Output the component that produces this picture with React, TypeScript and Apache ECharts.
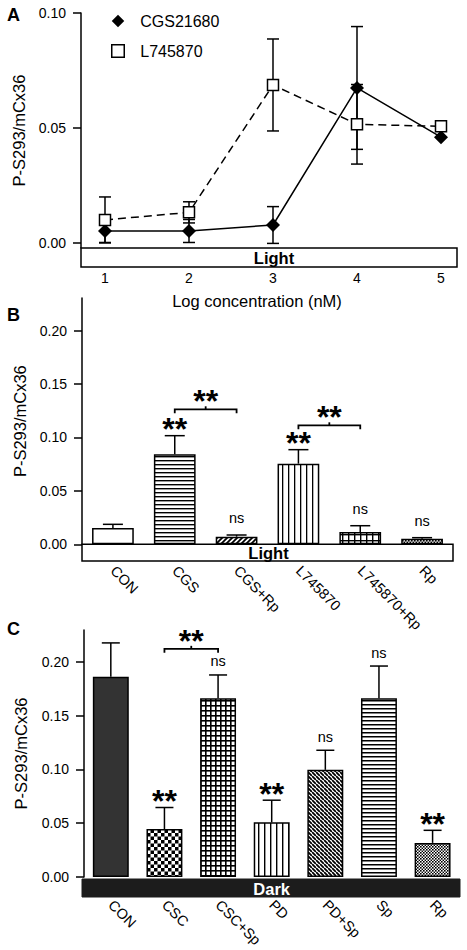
import React, { useEffect, useRef } from 'react';
import * as echarts from 'echarts';

const FONT = '"Liberation Sans", Arial, Helvetica, sans-serif';

// ---------- Panel A data ----------
const concentrations = [1, 2, 3, 4, 5];
const cgsMean = [0.0052, 0.0052, 0.0078, 0.0674, 0.046];
const cgsErr = [0.005, 0.005, 0.008, 0.0267, 0];
const l74Mean = [0.01, 0.0133, 0.0687, 0.0516, 0.0507];
const l74Err = [0.01, 0.0046, 0.02, 0.0173, 0];
const yTicksA = [0, 0.05, 0.1];
const xTicksA = [1, 2, 3, 4, 5];

// ---------- Panel B data ----------
const bCategories = ['CON', 'CGS', 'CGS+Rp', 'L745870', 'L745870+Rp', 'Rp'];
const bMean = [0.0153, 0.0843, 0.0071, 0.0755, 0.0115, 0.0053];
const bErr = [0.0034, 0.0174, 0.0016, 0.0131, 0.0059, 0.0009];
const bStars = [1, 3];
const bNs = [2, 4, 5];
const bBrackets = [
  [1, 2, 0.1264],
  [3, 4, 0.1114],
];

// ---------- Panel C data ----------
const cCategories = ['CON', 'CSC', 'CSC+Sp', 'PD', 'PD+Sp', 'Sp', 'Rp'];
const cMean = [0.186, 0.0445, 0.166, 0.0507, 0.0995, 0.166, 0.0316];
const cErr = [0.0315, 0.02, 0.0217, 0.0206, 0.0182, 0.03, 0.0117];
const cStars = [1, 3, 6];
const cNs = [2, 4, 5];
const cBrackets = [[1, 2, 0.212]];

const yTicksBC = [0, 0.05, 0.1, 0.15, 0.2];

function pattern(w: number, h: number, draw: (ctx: CanvasRenderingContext2D) => void) {
  const c = document.createElement('canvas');
  c.width = w;
  c.height = h;
  const ctx = c.getContext('2d') as CanvasRenderingContext2D;
  ctx.fillStyle = '#fff';
  ctx.fillRect(0, 0, w, h);
  ctx.fillStyle = '#000';
  ctx.strokeStyle = '#000';
  draw(ctx);
  return { image: c, repeat: 'repeat' } as any;
}
const hLines = (sp: number, t: number) => pattern(8, sp, (ctx) => ctx.fillRect(0, 0, 8, t));
const vLines = (sp: number, t: number) => pattern(sp, 8, (ctx) => ctx.fillRect(0, 0, t, 8));
const gridPat = (sp: number, t: number) =>
  pattern(sp, sp, (ctx) => {
    ctx.fillRect(0, 0, sp, t);
    ctx.fillRect(0, 0, t, sp);
  });
const checker = (s: number) =>
  pattern(2 * s, 2 * s, (ctx) => {
    ctx.fillRect(0, 0, s, s);
    ctx.fillRect(s, s, s, s);
  });
const diag = (s: number, t: number, forward: boolean) =>
  pattern(s, s, (ctx) => {
    ctx.lineWidth = t;
    ctx.beginPath();
    if (forward) {
      ctx.moveTo(-1, s + 1);
      ctx.lineTo(s + 1, -1);
      ctx.moveTo(-1, 1);
      ctx.lineTo(1, -1);
      ctx.moveTo(s - 1, s + 1);
      ctx.lineTo(s + 1, s - 1);
    } else {
      ctx.moveTo(-1, -1);
      ctx.lineTo(s + 1, s + 1);
      ctx.moveTo(s - 1, -1);
      ctx.lineTo(s + 1, 1);
      ctx.moveTo(-1, s - 1);
      ctx.lineTo(1, s + 1);
    }
    ctx.stroke();
  });

function errorBarSeries(
  name: string,
  xi: number,
  yi: number,
  data: number[][],
  cap: number,
  twoSided: boolean,
  z: number
) {
  return {
    type: 'custom',
    name,
    xAxisIndex: xi,
    yAxisIndex: yi,
    z,
    silent: true,
    encode: { x: 0, y: 1 },
    data,
    renderItem: (params: any, api: any) => {
      const x = api.value(0);
      const m = api.value(1);
      const e = api.value(2);
      if (!e) return { type: 'group', children: [] };
      const top = api.coord([x, m + e]);
      const bot = api.coord([x, twoSided ? m - e : m]);
      const style = { stroke: '#000', lineWidth: 1.5 };
      const children: any[] = [
        { type: 'line', shape: { x1: top[0], y1: top[1], x2: bot[0], y2: bot[1] }, style },
        { type: 'line', shape: { x1: top[0] - cap / 2, y1: top[1], x2: top[0] + cap / 2, y2: top[1] }, style },
      ];
      if (twoSided) {
        children.push({
          type: 'line',
          shape: { x1: bot[0] - cap / 2, y1: bot[1], x2: bot[0] + cap / 2, y2: bot[1] },
          style,
        });
      }
      return { type: 'group', children };
    },
  };
}

function annotationSeries(
  xi: number,
  yi: number,
  data: number[][],
  text: string,
  fontSize: number,
  bold: boolean,
  above: number
) {
  return {
    type: 'custom',
    xAxisIndex: xi,
    yAxisIndex: yi,
    z: 5,
    silent: true,
    encode: { x: 0, y: 1 },
    data,
    renderItem: (params: any, api: any) => {
      const p = api.coord([api.value(0), api.value(1)]);
      return {
        type: 'text',
        x: p[0],
        y: p[1] - above,
        style: {
          text,
          fill: '#000',
          fontSize,
          fontWeight: bold ? 'bold' : 'normal',
          fontFamily: FONT,
          align: 'center',
          verticalAlign: 'middle',
        },
      };
    },
  };
}

function bracketSeries(xi: number, yi: number, data: number[][], starAbove: number) {
  return {
    type: 'custom',
    xAxisIndex: xi,
    yAxisIndex: yi,
    z: 5,
    silent: true,
    encode: { x: [0, 1], y: 2 },
    data,
    renderItem: (params: any, api: any) => {
      const a = api.coord([api.value(0), api.value(2)]);
      const b = api.coord([api.value(1), api.value(2)]);
      const y = a[1];
      const mid = (a[0] + b[0]) / 2;
      const style = { stroke: '#000', lineWidth: 1.8, fill: 'none' };
      return {
        type: 'group',
        children: [
          {
            type: 'polyline',
            shape: { points: [[a[0], y + 4], [a[0], y], [b[0], y], [b[0], y + 4]] },
            style,
          },
          { type: 'line', shape: { x1: mid, y1: y, x2: mid, y2: y - 3 }, style },
          {
            type: 'text',
            x: mid,
            y: y - starAbove,
            style: {
              text: '**',
              fill: '#000',
              fontSize: 32,
              fontWeight: 'bold',
              fontFamily: FONT,
              align: 'center',
              verticalAlign: 'middle',
            },
          },
        ],
      };
    },
  };
}

export default function App() {
  const ref = useRef<HTMLDivElement>(null);

  useEffect(() => {
    if (!ref.current) return;
    const chart = echarts.init(ref.current, null, { renderer: 'svg' });

    const bPatterns = [
      '#fff',
      hLines(4.1, 1.4),
      diag(5, 1.8, true),
      vLines(6, 1.3),
      gridPat(6.2, 1.4),
      checker(1.6),
    ];
    const cPatterns = [
      '#333333',
      checker(3.5),
      gridPat(5.4, 1.6),
      vLines(6, 1.4),
      diag(4.6, 1.8, false),
      hLines(4.7, 1.5),
      checker(1.6),
    ];

    const yAxisCommon = {
      type: 'value',
      axisLine: { show: true, lineStyle: { color: '#000', width: 1.5 } },
      axisTick: { show: true, length: 8, lineStyle: { color: '#000', width: 1.5 } },
      splitLine: { show: false },
      axisLabel: {
        color: '#000',
        fontSize: 14,
        fontFamily: FONT,
        margin: 15,
        formatter: (v: number) => v.toFixed(2),
      },
      name: 'P-S293/mCx36',
      nameLocation: 'middle',
      nameTextStyle: { color: '#000', fontSize: 16.5, fontFamily: FONT },
    };

    const xCatCommon = {
      type: 'category',
      axisLine: { show: false },
      axisTick: { show: false },
      splitLine: { show: false },
    };

    const errA1 = concentrations.map((x, i) => [x, cgsMean[i], cgsErr[i]]);
    const errA2 = concentrations.map((x, i) => [x, l74Mean[i], l74Err[i]]);
    const errB = bMean.map((m, i) => [i, m, bErr[i]]);
    const errC = cMean.map((m, i) => [i, m, cErr[i]]);

    chart.setOption({
      animation: false,
      backgroundColor: '#fff',
      textStyle: { fontFamily: FONT },
      legend: {
        left: 106,
        top: 8,
        orient: 'vertical',
        itemWidth: 12.5,
        itemHeight: 12.5,
        itemGap: 14,
        textStyle: { color: '#000', fontSize: 16, fontFamily: FONT, padding: [0, 0, 0, 11] },
        data: [
          { name: 'CGS21680', icon: 'diamond', itemStyle: { color: '#000' } },
          {
            name: 'L745870',
            icon: 'rect',
            itemStyle: { color: '#fff', borderColor: '#000', borderWidth: 1.5 },
          },
        ],
      },
      grid: [
        { left: 81, right: 10, top: 13, height: 235 },
        { left: 82, right: 14, top: 298, bottom: 405.7 },
        { left: 84, right: 7.6, top: 630, bottom: 71 },
      ],
      xAxis: [
        {
          type: 'value',
          gridIndex: 0,
          min: 0.7143,
          max: 5.1905,
          axisLine: { show: false },
          axisTick: { show: false },
          splitLine: { show: false },
          axisLabel: {
            color: '#000',
            fontSize: 14,
            fontFamily: FONT,
            margin: 23,
            customValues: xTicksA,
          },
          name: 'Log concentration (nM)',
          nameLocation: 'middle',
          nameGap: 44,
          nameTextStyle: { color: '#000', fontSize: 16.5, fontFamily: FONT, padding: [0, 24, 0, 0] },
        },
        {
          ...xCatCommon,
          gridIndex: 1,
          data: bCategories,
          axisLabel: {
            color: '#000',
            fontSize: 14.5,
            fontFamily: FONT,
            rotate: -45,
            margin: 24,
            interval: 0,
            align: 'left',
            verticalAlign: 'middle',
          },
        },
        {
          ...xCatCommon,
          gridIndex: 2,
          data: cCategories,
          axisLabel: {
            color: '#000',
            fontSize: 14.5,
            fontFamily: FONT,
            rotate: -45,
            margin: 25.5,
            interval: 0,
            align: 'left',
            verticalAlign: 'middle',
          },
        },
      ],
      yAxis: [
        {
          ...yAxisCommon,
          gridIndex: 0,
          min: -0.0022,
          max: 0.1,
          nameGap: 52,
          axisLabel: { ...yAxisCommon.axisLabel, customValues: yTicksA },
          axisTick: { ...yAxisCommon.axisTick, customValues: yTicksA },
        },
        {
          ...yAxisCommon,
          gridIndex: 1,
          min: 0,
          max: 0.2306,
          nameGap: 53,
          axisLabel: { ...yAxisCommon.axisLabel, customValues: yTicksBC },
          axisTick: { ...yAxisCommon.axisTick, customValues: yTicksBC },
        },
        {
          ...yAxisCommon,
          gridIndex: 2,
          min: 0,
          max: 0.2295,
          nameGap: 55,
          axisLabel: { ...yAxisCommon.axisLabel, customValues: yTicksBC },
          axisTick: { ...yAxisCommon.axisTick, customValues: yTicksBC },
        },
      ],
      series: [
        errorBarSeries('errA1', 0, 0, errA1, 12, true, 1),
        errorBarSeries('errA2', 0, 0, errA2, 12, true, 1),
        {
          type: 'line',
          name: 'CGS21680',
          xAxisIndex: 0,
          yAxisIndex: 0,
          z: 3,
          data: concentrations.map((x, i) => [x, cgsMean[i]]),
          symbol: 'diamond',
          symbolSize: 14,
          itemStyle: { color: '#000' },
          lineStyle: { color: '#000', width: 1.5 },
        },
        {
          type: 'line',
          name: 'L745870',
          xAxisIndex: 0,
          yAxisIndex: 0,
          z: 4,
          data: concentrations.map((x, i) => [x, l74Mean[i]]),
          symbol: 'rect',
          symbolSize: 11,
          itemStyle: { color: '#fff', borderColor: '#000', borderWidth: 1.5 },
          lineStyle: { color: '#000', width: 1.5, type: [8, 5] },
        },
        {
          type: 'bar',
          xAxisIndex: 1,
          yAxisIndex: 1,
          barWidth: '67.5%',
          z: 2,
          data: bMean.map((v, i) => ({
            value: v,
            itemStyle: { color: bPatterns[i], borderColor: '#000', borderWidth: 1.5 },
          })),
        },
        errorBarSeries('errB', 1, 1, errB, 20, false, 3),
        annotationSeries(1, 1, bStars.map((i) => [i, bMean[i] + bErr[i]]), '**', 32, true, 7),
        annotationSeries(1, 1, bNs.map((i) => [i, bMean[i] + bErr[i]]), 'ns', 14.5, false, 17),
        bracketSeries(1, 1, bBrackets, 8),
        {
          type: 'bar',
          xAxisIndex: 2,
          yAxisIndex: 2,
          barWidth: '67%',
          z: 2,
          data: cMean.map((v, i) => ({
            value: v,
            itemStyle: { color: cPatterns[i], borderColor: '#000', borderWidth: 1.5 },
          })),
        },
        errorBarSeries('errC', 2, 2, errC, 18, false, 3),
        annotationSeries(2, 2, cStars.map((i) => [i, cMean[i] + cErr[i]]), '**', 32, true, 6.5),
        annotationSeries(2, 2, cNs.map((i) => [i, cMean[i] + cErr[i]]), 'ns', 14.5, false, 13.5),
        bracketSeries(2, 2, cBrackets, 8),
      ],
      graphic: [
        { type: 'rect', shape: { x: 81, y: 248, width: 376, height: 19 }, style: { fill: '#fff', stroke: '#000', lineWidth: 1.5 }, z: 10 },
        { type: 'text', x: 274, y: 257.7, style: { text: 'Light', fill: '#000', fontSize: 16.5, fontWeight: 'bold', fontFamily: FONT, align: 'center', verticalAlign: 'middle' }, z: 11 },
        { type: 'rect', shape: { x: 82, y: 544.3, width: 371, height: 16.6 }, style: { fill: '#fff', stroke: '#000', lineWidth: 1.5 }, z: 10 },
        { type: 'text', x: 268.5, y: 552.7, style: { text: 'Light', fill: '#000', fontSize: 16.5, fontWeight: 'bold', fontFamily: FONT, align: 'center', verticalAlign: 'middle' }, z: 11 },
        { type: 'rect', shape: { x: 82, y: 879, width: 378, height: 18 }, style: { fill: '#1c1c1c', stroke: '#1c1c1c', lineWidth: 1 }, z: 10 },
        { type: 'text', x: 271.7, y: 889.3, style: { text: 'Dark', fill: '#fff', fontSize: 16.5, fontWeight: 'bold', fontFamily: FONT, align: 'center', verticalAlign: 'middle' }, z: 11 },
        { type: 'text', x: 7, y: 14.8, style: { text: 'A', fill: '#000', fontSize: 18, fontWeight: 'bold', fontFamily: FONT, align: 'left', verticalAlign: 'middle' }, z: 11 },
        { type: 'text', x: 7, y: 315, style: { text: 'B', fill: '#000', fontSize: 18, fontWeight: 'bold', fontFamily: FONT, align: 'left', verticalAlign: 'middle' }, z: 11 },
        { type: 'text', x: 7, y: 629.3, style: { text: 'C', fill: '#000', fontSize: 18, fontWeight: 'bold', fontFamily: FONT, align: 'left', verticalAlign: 'middle' }, z: 11 },
      ],
    });

    return () => chart.dispose();
  }, []);

  return (
    <div
      ref={ref}
      style={{ position: 'absolute', left: 0, top: 0, width: 467, height: 950, background: '#fff' }}
    />
  );
}
